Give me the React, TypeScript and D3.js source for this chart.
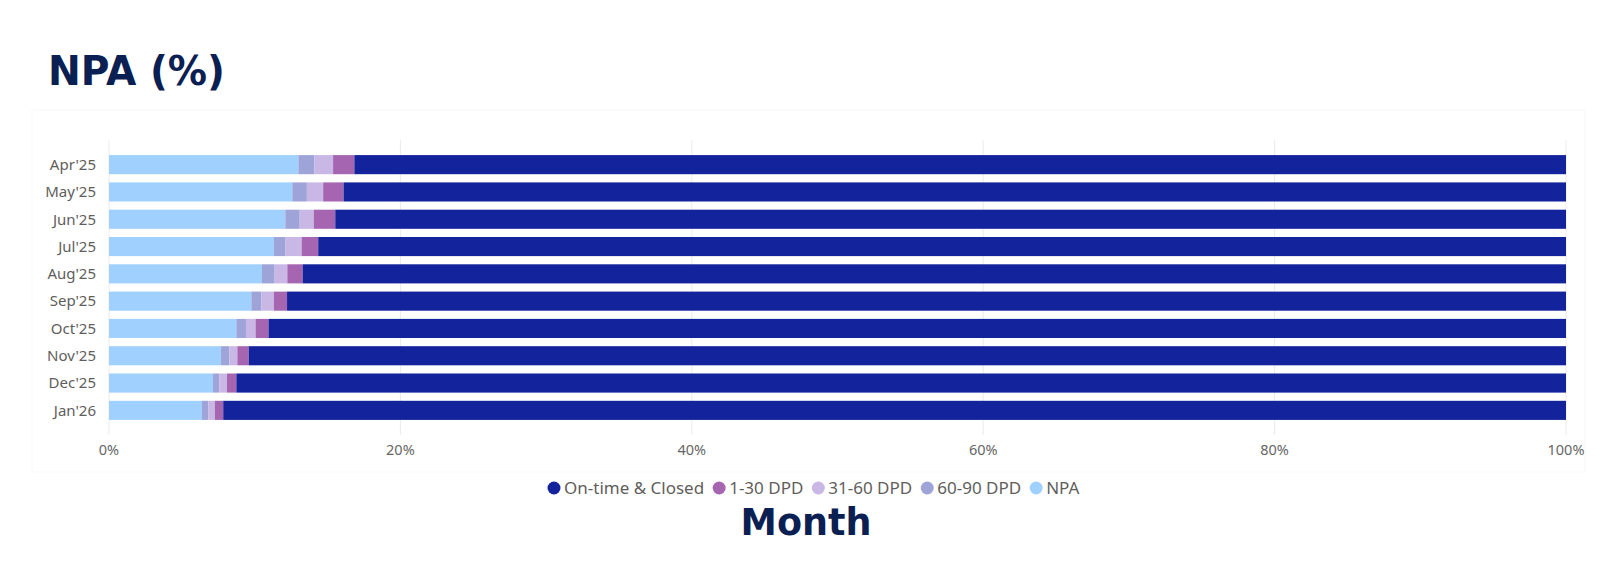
import { useEffect, useRef } from "react";
import * as d3 from "d3";

const months = ["Apr'25", "May'25", "Jun'25", "Jul'25", "Aug'25", "Sep'25", "Oct'25", "Nov'25", "Dec'25", "Jan'26"];

// stacked left -> right: NPA, 60-90, 31-60, 1-30, On-time
const npa = [13.0, 12.58, 12.1, 11.32, 10.5, 9.77, 8.74, 7.69, 7.14, 6.38];
const dpd60to90 = [1.1, 1.0, 0.99, 0.8, 0.87, 0.69, 0.66, 0.57, 0.43, 0.43];
const dpd31to60 = [1.28, 1.12, 0.96, 1.1, 0.87, 0.85, 0.66, 0.55, 0.53, 0.46];
const dpd1to30 = [1.46, 1.4, 1.48, 1.14, 1.05, 0.91, 0.89, 0.78, 0.64, 0.57];
const onTime = [83.16, 83.9, 84.47, 85.64, 86.71, 87.78, 89.05, 90.41, 91.26, 92.16];

const xTicks = [0, 20, 40, 60, 80, 100];

const series = [
  { key: "npa", label: "NPA", values: npa, color: "#a0d0fd" },
  { key: "d6090", label: "60-90 DPD", values: dpd60to90, color: "#9ea4d8" },
  { key: "d3160", label: "31-60 DPD", values: dpd31to60, color: "#c9b8e6" },
  { key: "d130", label: "1-30 DPD", values: dpd1to30, color: "#a665b0" },
  { key: "ontime", label: "On-time & Closed", values: onTime, color: "#13239c" },
];

const legendOrder = ["ontime", "d130", "d3160", "d6090", "npa"];

const W = 1603;
const H = 569;

const NpaChart = () => {
  const ref = useRef<SVGSVGElement | null>(null);

  useEffect(() => {
    if (!ref.current) return;
    const svg = d3.select(ref.current);
    svg.selectAll("*").remove();

    const margin = { left: 109, right: W - 1566, top: 151, bottom: H - 424 };

    const x = d3.scaleLinear().domain([0, 100]).range([margin.left, W - margin.right]);
    const y = d3
      .scaleBand()
      .domain(months)
      .range([margin.top, H - margin.bottom])
      .paddingInner(0.3)
      .paddingOuter(0.15);

    // card
    svg.append("rect")
      .attr("x", 32).attr("y", 110).attr("width", 1553).attr("height", 362)
      .attr("fill", "#fff").attr("stroke", "#f7f7f7");

    // title
    svg.append("text")
      .attr("x", 48).attr("y", 85)
      .attr("font-family", "'DejaVu Sans', sans-serif").attr("font-weight", 700)
      .attr("font-size", 40).attr("fill", "#0b2052")
      .attr("textLength", 177).attr("lengthAdjust", "spacingAndGlyphs")
      .text("NPA (%)");

    // grid
    svg.append("g")
      .selectAll("line")
      .data(xTicks)
      .join("line")
      .attr("x1", d => x(d)).attr("x2", d => x(d))
      .attr("y1", 140).attr("y2", 435)
      .attr("stroke", "#ebebeb").attr("stroke-width", 1);

    // stacked bars
    const stackData = months.map((m, i) => {
      const row: Record<string, number | string> = { month: m };
      series.forEach(s => (row[s.key] = s.values[i]));
      return row;
    });
    const stack = d3.stack<Record<string, number | string>>().keys(series.map(s => s.key));
    const layers = stack(stackData as any);

    svg.append("g")
      .selectAll("g")
      .data(layers)
      .join("g")
      .attr("fill", (_, i) => series[i].color)
      .selectAll("rect")
      .data(d => d)
      .join("rect")
      .attr("x", d => x(d[0]))
      .attr("y", d => y(d.data.month as string)!)
      .attr("width", d => x(d[1]) - x(d[0]))
      .attr("height", y.bandwidth());

    // y axis labels
    svg.append("g")
      .selectAll("text")
      .data(months)
      .join("text")
      .attr("x", 96)
      .attr("y", d => y(d)! + y.bandwidth() / 2)
      .attr("dy", "0.35em")
      .attr("text-anchor", "end")
      .attr("font-family", "'Noto Sans', sans-serif")
      .attr("font-size", 15)
      .attr("fill", "#5f5e5c")
      .text(d => d);

    // x axis labels
    svg.append("g")
      .selectAll("text")
      .data(xTicks)
      .join("text")
      .attr("x", d => x(d))
      .attr("y", 450)
      .attr("dy", "0.35em")
      .attr("text-anchor", "middle")
      .attr("font-family", "'Noto Sans', sans-serif")
      .attr("font-size", 14.5)
      .attr("fill", "#666")
      .text(d => `${d}%`);

    // legend
    const legend = svg.append("g").attr("font-family", "'Noto Sans', sans-serif").attr("font-size", 17);
    let cx = 554;
    legendOrder.forEach(k => {
      const s = series.find(d => d.key === k)!;
      legend.append("circle").attr("cx", cx).attr("cy", 488).attr("r", 6.5).attr("fill", s.color);
      const t = legend.append("text")
        .attr("x", cx + 10).attr("y", 488).attr("dy", "0.35em")
        .attr("fill", "#5f5e5c").text(s.label);
      const w = (t.node() as SVGTextElement).getComputedTextLength();
      cx += 10 + w + 15;
    });

    // x title
    svg.append("text")
      .attr("x", 806).attr("y", 535)
      .attr("text-anchor", "middle")
      .attr("font-family", "'DejaVu Sans', sans-serif").attr("font-weight", 700)
      .attr("font-size", 36.5).attr("fill", "#0b2052")
      .text("Month");
  }, []);

  return <svg ref={ref} width={W} height={H} style={{ position: "absolute", left: 0, top: 0 }} />;
};

export default function App() {
  return <NpaChart />;
}
